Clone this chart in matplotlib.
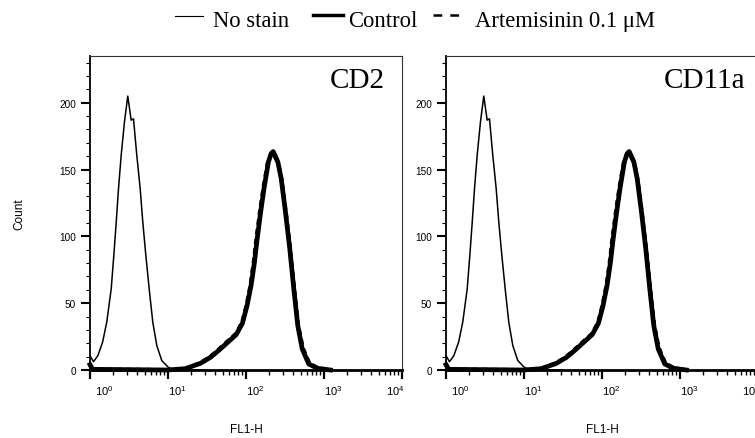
import numpy as np
import matplotlib
matplotlib.use("Agg")
import matplotlib.pyplot as plt
from matplotlib.lines import Line2D
from matplotlib.ticker import LogLocator, NullFormatter, MultipleLocator
from matplotlib.transforms import ScaledTranslation

plt.rcParams['font.family'] = ['Liberation Sans', 'DejaVu Sans']
plt.rcParams['mathtext.fontset'] = 'custom'
plt.rcParams['mathtext.rm'] = 'Liberation Sans'
plt.rcParams['mathtext.it'] = 'Liberation Sans:italic'
plt.rcParams['mathtext.bf'] = 'Liberation Sans:bold'
plt.rcParams['lines.scale_dashes'] = False

# ---------------- data ----------------
panels = ["CD2", "CD11a"]
series_names = ["No stain", "Control", "Artemisinin 0.1 \u03bcM"]

nostain_x = [1.0, 1.11, 1.26, 1.45, 1.64, 1.87, 2.02, 2.17, 2.32, 2.51, 2.77, 3.05,
             3.37, 3.61, 3.98, 4.40, 4.75, 5.20, 5.74, 6.38, 7.19, 8.33, 10.1, 12.0, 30.0]
nostain_y = [10.7, 6.2, 10.7, 20.8, 35.8, 60.7, 85.7, 110.8, 135.7, 160.7, 186, 205,
             187, 188, 160.7, 135.7, 110.8, 85.7, 60.7, 35.8, 18.2, 7, 2, 0, 0]

control_x = [1.0, 1.08, 9.8, 16.7, 26.1, 35.1, 44.4, 58.5, 75, 90, 103, 116, 128,
             139, 154, 170, 194, 210, 223, 256, 283, 321, 364, 410, 461, 526, 638, 818, 1211]
control_y = [4, 0.5, 0, 1, 5, 9.5, 14.5, 20.8, 26.5, 35, 48, 63, 80,
             98, 118, 135.7, 155.8, 162, 163.5, 155.8, 143, 118, 90.7, 60.7, 33.2, 15.7, 4.5, 1.3, 0]

artem_x = [1.0, 1.08, 9.8, 16.6, 25.8, 34.6, 43.8, 57.5, 74, 89, 101.5, 114, 125.5,
           136, 151, 167, 191, 208, 223, 259, 287, 326, 370, 417, 469, 536, 650, 830, 1220]
artem_y = [4, 0.5, 0, 1, 5.2, 9.8, 15, 21.3, 27, 35.5, 48.5, 63.5, 81,
           99, 119, 136.5, 156, 161, 162, 155, 142, 117, 89.5, 59.5, 33, 16.5, 5, 1.5, 0]

x_ticks = [1, 10, 100, 1000, 10000]
x_tick_labels = ["$10^{0}$", "$10^{1}$", "$10^{2}$", "$10^{3}$", "$10^{4}$"]
y_ticks = [0, 50, 100, 150, 200]
y_tick_labels = ["0", "50", "100", "150", "200"]

# ---------------- layout ----------------
W, H = 755, 439
fig = plt.figure(figsize=(W / 100, H / 100), dpi=100)

def fx(px):
    return px / W

def fy(py):
    return 1 - py / H

ax_lefts = [90, 446]
ax_w, ax_top, ax_bot = 312, 57, 371
title_xfrac = [0.9455, 0.958]
label_dx = [14, 9, 9, 9, -7]

for i, name in enumerate(panels):
    ax = fig.add_axes([fx(ax_lefts[i]), fy(ax_bot), ax_w / W, (ax_bot - ax_top) / H])
    ax.set_xscale('log')
    ax.set_xlim(1, 1e4)
    ax.set_ylim(0, 235)

    ax.plot(nostain_x, nostain_y, color='black', lw=1.1, clip_on=False, zorder=3)
    ax.plot(control_x, control_y, color='black', lw=3.4, clip_on=False, zorder=3,
            solid_joinstyle='round')
    ax.plot(artem_x, artem_y, color='black', lw=2.8, clip_on=False, zorder=4,
            dashes=(4, 3))

    ax.set_xticks(x_ticks)
    ax.set_xticklabels(x_tick_labels)
    ax.xaxis.set_minor_locator(LogLocator(base=10, subs=np.arange(2, 10)))
    ax.xaxis.set_minor_formatter(NullFormatter())
    ax.set_yticks(y_ticks)
    ax.set_yticklabels(y_tick_labels)
    ax.yaxis.set_minor_locator(MultipleLocator(10))

    ax.tick_params(axis='x', which='major', direction='out', length=6.5, width=1.6,
                   pad=3, labelsize=8)
    ax.tick_params(axis='x', which='minor', direction='out', length=3.5, width=1.0)
    ax.tick_params(axis='y', which='major', direction='out', length=6.5, width=1.5,
                   pad=3.5, labelsize=7.2)
    ax.tick_params(axis='y', which='minor', direction='out', length=3, width=0.8)

    for lab, dx in zip(ax.get_xticklabels(), label_dx):
        lab.set_transform(lab.get_transform() + ScaledTranslation(dx / 100, 0, fig.dpi_scale_trans))

    ax.spines['left'].set_linewidth(1.3)
    ax.spines['bottom'].set_linewidth(2.0)
    for s in ['top', 'right']:
        ax.spines[s].set_linewidth(0.8)
        ax.spines[s].set_color('#333333')

    ax.text(title_xfrac[i], (ax_bot - 88.3) / (ax_bot - ax_top), name,
            transform=ax.transAxes, ha='right', va='baseline',
            fontsize=21, family='Liberation Serif')

    ax.text(0.5, (ax_bot - 430) / (ax_bot - ax_top), "FL1-H", transform=ax.transAxes,
            ha='center', va='center', fontsize=8.5)

fig.text(fx(19.5), fy(214), "Count", rotation=90, ha='center', va='center', fontsize=8.5)

# ---------------- legend ----------------
leg_base = fy(26.7)
fig.add_artist(Line2D([fx(175), fx(203)], [fy(17), fy(17)], color='black', lw=0.8,
                      transform=fig.transFigure))
fig.text(fx(213), leg_base, series_names[0], fontsize=16.3, family='Liberation Serif',
         va='baseline', ha='left')
fig.add_artist(Line2D([fx(313), fx(343)], [fy(15.5), fy(15.5)], color='black', lw=2.5,
                      transform=fig.transFigure))
fig.text(fx(348), leg_base, series_names[1], fontsize=16.3, family='Liberation Serif',
         va='baseline', ha='left')
fig.add_artist(Line2D([fx(433), fx(460)], [fy(15.5), fy(15.5)], color='black', lw=1.8,
                      dashes=(6.3, 5.8), transform=fig.transFigure))
fig.text(fx(475), leg_base, series_names[2], fontsize=16.3, family='Liberation Serif',
         va='baseline', ha='left')

fig.savefig("out.png", dpi=100)
